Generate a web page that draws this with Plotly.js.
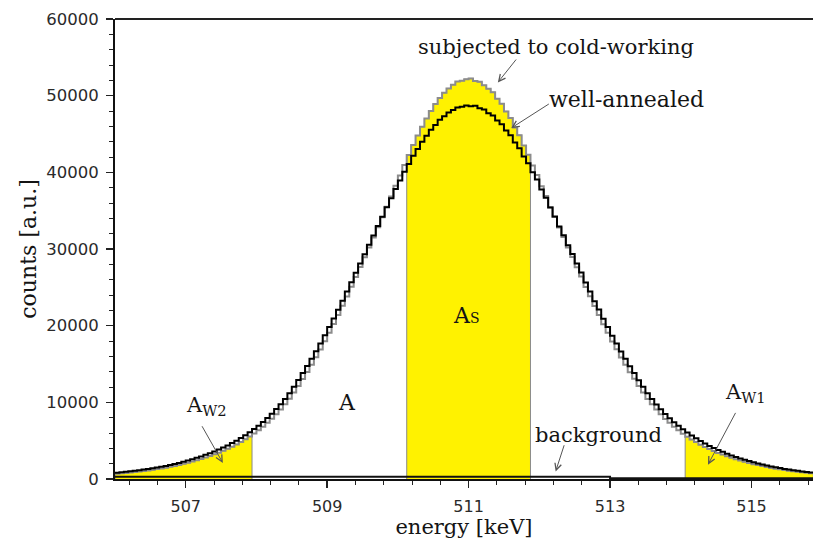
<!DOCTYPE html>
<html>
<head>
<meta charset="utf-8">
<script src="https://cdn.plot.ly/plotly-3.0.1.min.js"></script>
<style>
  html, body { margin: 0; padding: 0; background: #fff; overflow: hidden; }
  #chart { width: 813px; height: 539px; }
</style>
</head>
<body>
<div id="chart"></div>
<script>
// ---- data ----
const binStart = 506.0;     // keV, left edge of first channel
const binWidth = 0.0625;    // keV per channel

// well-annealed sample (black)
const annealed = [
  830, 890, 950, 1010, 1080, 1150, 1230, 1310, 1400, 1500,
  1600, 1710, 1830, 1960, 2100, 2250, 2410, 2580, 2760, 2950,
  3150, 3370, 3600, 3840, 4100, 4380, 4680, 5000, 5340, 5700,
  6090, 6510, 6960, 7440, 7960, 8520, 9120, 9760, 10450, 11200,
  12020, 12900, 13820, 14730, 15670, 16660, 17680, 18740, 19820, 20940,
  22090, 23260, 24450, 25660, 26900, 28120, 29330, 30540, 31760, 32990,
  34200, 35450, 36620, 37830, 38940, 40080, 41100, 42150, 43050, 43980,
  44760, 45560, 46190, 46850, 47320, 47820, 48120, 48450, 48560, 48720,
  48620, 48700, 48350, 48180, 47700, 47400, 46750, 46280, 45450, 44850,
  43900, 43150, 42050, 41200, 40000, 39050, 37750, 36700, 35400, 34250,
  32950, 31800, 30500, 29350, 28100, 26920, 25620, 24470, 23200, 22100,
  20900, 19830, 18700, 17690, 16620, 15680, 14700, 13830, 12870, 12030,
  11170, 10440, 9730, 9110, 8490, 7940, 7410, 6940, 6480, 6060,
  5660, 5300, 4950, 4630, 4320, 4040, 3780, 3540, 3300, 3080,
  2880, 2690, 2510, 2340, 2180, 2030, 1890, 1760, 1640, 1530,
  1420, 1320, 1230, 1140, 1060, 990, 920, 860
];

// sample subjected to cold-working (gray)
const coldWorked = [
  692, 745, 798, 851, 914, 976, 1048, 1120, 1201, 1292,
  1382, 1483, 1592, 1711, 1840, 1978, 2123, 2278, 2443, 2617,
  2800, 3003, 3215, 3437, 3678, 3938, 4217, 4515, 4833, 5170,
  5536, 5931, 6361, 6822, 7323, 7864, 8445, 9067, 9739, 10472,
  11275, 12139, 13046, 13949, 14887, 15877, 16902, 17972, 19067, 20207,
  21383, 22585, 23814, 25070, 26362, 27642, 28919, 30204, 31506, 32825,
  34140, 35508, 36862, 38234, 39582, 40941, 42266, 43552, 44793, 45937,
  47023, 47997, 48902, 49682, 50381, 50947, 51423, 51850, 51950, 52150,
  52250, 51900, 51800, 51350, 50900, 50450, 49600, 48950, 47950, 47100,
  45850, 44850, 43500, 42300, 40900, 39650, 38200, 36900, 35450, 34180,
  32800, 31550, 30180, 28950, 27620, 26400, 25040, 23850, 22560, 21400,
  20180, 19080, 17950, 16920, 15860, 14900, 13930, 13060, 12120, 11290,
  10450, 9750, 9050, 8450, 7840, 7330, 6800, 6360, 5900, 5520,
  5140, 4810, 4480, 4190, 3900, 3650, 3400, 3180, 2970, 2770,
  2580, 2410, 2250, 2090, 1940, 1810, 1680, 1560, 1450, 1350,
  1260, 1170, 1090, 1010, 940, 880, 820, 760
];

// shaded windows (channel index ranges: [first, end))
const windowW2 = [0, 31];
const windowS  = [66, 94];
const windowW1 = [129, 158];

// background
const bgEnergy = [506.0, 513.0, 515.9];
const bgCounts = [280, 110, 110];

// tick values
const xTickVals = [507, 509, 511, 513, 515];
const yTickVals = [0, 10000, 20000, 30000, 40000, 50000, 60000];

// ---- helpers ----
function edge(i) { return binStart + i * binWidth; }
function stepXY(vals, a, b) {
  const x = [], y = [];
  for (let i = a; i < b; i++) { x.push(edge(i)); y.push(vals[i]); }
  x.push(edge(b)); y.push(vals[b - 1]);
  return {x, y};
}
function windowXY(vals, range) {
  const s = stepXY(vals, range[0], range[1]);
  return { x: [s.x[0]].concat(s.x, [s.x[s.x.length - 1]]),
           y: [0].concat(s.y, [0]) };
}

const traces = [];
[windowW2, windowS, windowW1].forEach(r => {
  const w = windowXY(coldWorked, r);
  traces.push({
    x: w.x, y: w.y, type: 'scatter', mode: 'lines',
    line: {shape: 'hv', color: '#8a8a8a', width: 1},
    fill: 'tozeroy', fillcolor: '#fff200', hoverinfo: 'skip'
  });
});
traces.push({x: bgEnergy, y: bgCounts, type: 'scatter', mode: 'lines',
  line: {shape: 'hv', color: '#111111', width: 2}, name: 'background'});
const cw = stepXY(coldWorked, 0, coldWorked.length);
traces.push({x: cw.x, y: cw.y, type: 'scatter', mode: 'lines',
  line: {shape: 'hv', color: '#8c8c8c', width: 2}, name: 'subjected to cold-working'});
const an = stepXY(annealed, 0, annealed.length);
traces.push({x: an.x, y: an.y, type: 'scatter', mode: 'lines',
  line: {shape: 'hv', color: '#000000', width: 2}, name: 'well-annealed'});

const serif = 'DejaVu Serif, Liberation Serif, serif';
const textColor = '#141414';
function label(x, y, text, size) {
  return {x, y, xref: 'x', yref: 'y', text, showarrow: false,
    xanchor: 'center', yanchor: 'middle',
    font: {family: serif, size: size, color: textColor}};
}
function arrow(tx, ty, hx, hy) {
  return {x: hx, y: hy, ax: tx, ay: ty, xref: 'x', yref: 'y', axref: 'x', ayref: 'y',
    text: '', showarrow: true, arrowhead: 5, arrowsize: 1.3, arrowwidth: 1,
    arrowcolor: '#555555', standoff: 0, startstandoff: 0};
}

const layout = {
  width: 813, height: 539,
  margin: {l: 115, r: 0, t: 19, b: 60},
  paper_bgcolor: '#ffffff', plot_bgcolor: '#ffffff',
  showlegend: false,
  xaxis: {
    range: [506.0, 515.87], showgrid: false, zeroline: false,
    showline: true, linecolor: '#111', linewidth: 2,
    ticks: 'outside', ticklen: 7, tickwidth: 1.5, tickcolor: '#222',
    tickvals: xTickVals, ticktext: xTickVals.map(String),
    ticklabelstandoff: 5,
    minor: {dtick: 0.4, tick0: 507, ticks: 'outside', ticklen: 4, tickwidth: 1, tickcolor: '#222'},
    tickfont: {family: 'DejaVu Sans, Arial, sans-serif', size: 16, color: '#2a2a2a'},
    title: {text: 'energy [keV]', font: {family: serif, size: 21, color: textColor}, standoff: 6}
  },
  yaxis: {
    range: [0, 60000], showgrid: false, zeroline: false,
    showline: true, linecolor: '#111', linewidth: 2,
    ticks: 'outside', ticklen: 7, tickwidth: 1.5, tickcolor: '#222',
    tickvals: yTickVals, ticktext: yTickVals.map(String),
    ticklabelstandoff: 4,
    minor: {dtick: 2000, ticks: 'outside', ticklen: 4, tickwidth: 1, tickcolor: '#222'},
    tickfont: {family: 'DejaVu Sans, Arial, sans-serif', size: 16.5, color: '#2a2a2a'},
    title: {text: 'counts [a.u.]', font: {family: serif, size: 22, color: textColor}, standoff: 4}
  },
  shapes: [{type: 'line', xref: 'paper', yref: 'paper', x0: 0, x1: 1, y0: 1, y1: 1,
    line: {color: '#222', width: 2}}],
  annotations: [
    label(512.238, 56385, 'subjected to cold-working', 21),
    label(513.228, 49470, 'well-annealed', 22),
    label(512.832, 5780, 'background', 21),
    label(509.274, 9950, 'A', 22),
    label(510.958, 21340, "A<span style='font-size:14px'>S</span>", 22),
    label(507.294, 9560, 'A<sub>W2</sub>', 21),
    label(514.918, 11260, 'A<sub>W1</sub>', 21),
    arrow(511.689, 54910, 511.414, 51730),
    arrow(512.156, 49040, 511.604, 45780),
    arrow(507.219, 7080, 507.525, 2090),
    arrow(514.786, 8820, 514.385, 1870),
    arrow(512.358, 4600, 512.231, 990)
  ]
};

Plotly.newPlot('chart', traces, layout, {displayModeBar: false, staticPlot: true});
</script>
</body>
</html>
